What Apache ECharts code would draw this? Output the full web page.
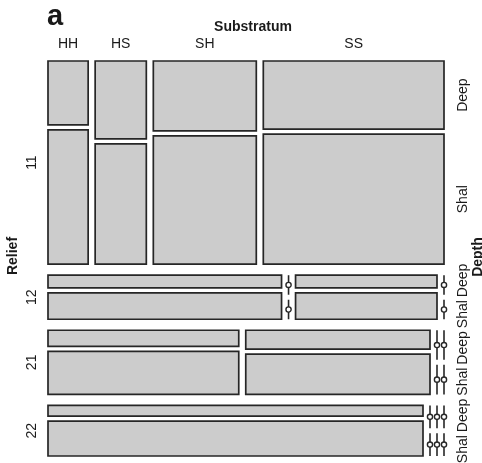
<!DOCTYPE html>
<html>
<head>
<meta charset="utf-8">
<script src="https://cdn.jsdelivr.net/npm/echarts@6/dist/echarts.min.js"></script>
<style>
html, body { margin: 0; padding: 0; background: #fff; }
#main { width: 482px; height: 463px; }
</style>
</head>
<body>
<div id="main"></div>
<script>
// levels
var relief = ['11', '12', '21', '22'];
var substratum = ['HH', 'HS', 'SH', 'SS'];
var depth = ['Deep', 'Shal'];

var deep11 = [2.0, 3.1, 5.6, 9.6];
var shal11 = [4.2, 4.8, 10.3, 18.3];
var deep12 = [2.3, 0, 1.4, 0];
var shal12 = [4.8, 0, 2.9, 0];
var deep21 = [2.4, 2.7, 0, 0];
var shal21 = [6.4, 5.8, 0, 0];
var deep22 = [3.1, 0, 0, 0];
var shal22 = [10.2, 0, 0, 0];

var counts = [[deep11, shal11], [deep12, shal12], [deep21, shal21], [deep22, shal22]];

var FONT = '"Liberation Sans", Arial, Helvetica, sans-serif';
var INK = '#1a1a1a';
var EDGE = '#262626';
var FILL = '#cccccc';

// plot box and spacing (gaps as fractions of the unit square)
var PLOT = { left: 48, top: 61, width: 396, height: 395 };
var GAP_R = 11 / PLOT.height;  // between relief rows
var GAP_D = 5 / PLOT.height;   // between depth levels
var GAP_S = 7 / PLOT.width;    // between substratum columns

// mosaic layout in the unit square: rows = relief, columns = substratum, split by depth
var total = 0;
var rowTot = counts.map(function (r) {
  var t = 0;
  r.forEach(function (d) { d.forEach(function (v) { t += v; }); });
  total += t;
  return t;
});
var netH = 1 - GAP_R * (relief.length - 1) - GAP_D * relief.length * (depth.length - 1);
var netW = 1 - GAP_S * (substratum.length - 1);

var tiles = [];
var rowPos = [];
var colPos = [];
var y = 0;
relief.forEach(function (rl, r) {
  var rowH = netH * rowTot[r] / total;
  var x = 0;
  var cols = [];
  substratum.forEach(function (sl, s) {
    var colTot = 0;
    depth.forEach(function (dl, d) { colTot += counts[r][d][s]; });
    var w = netW * colTot / rowTot[r];
    var yy = y;
    depth.forEach(function (dl, d) {
      var v = counts[r][d][s];
      var h = colTot > 0 ? rowH * v / colTot : rowH / depth.length;
      tiles.push({ r: r, s: s, d: d, v: v, x0: x, x1: x + w, y0: yy, y1: yy + h });
      yy += h + GAP_D;
    });
    cols.push([x, x + w]);
    x += w + GAP_S;
  });
  colPos.push(cols);
  var y1 = y + rowH + GAP_D * (depth.length - 1);
  rowPos.push([y, y1]);
  y = y1 + GAP_R;
});

// text measuring for label packing
var ctx = document.createElement('canvas').getContext('2d');
ctx.font = '14px ' + FONT;
function textLen(t) { return ctx.measureText(t).width / PLOT.height; }

var labels = [];
// substratum labels over first row
substratum.forEach(function (sl, s) {
  var c = colPos[0][s];
  labels.push({ text: sl, x: (c[0] + c[1]) / 2, y: 0, dx: 0, dy: -17, rot: 0 });
});
// relief labels on the left
relief.forEach(function (rl, r) {
  labels.push({ text: rl, x: 0, y: (rowPos[r][0] + rowPos[r][1]) / 2, dx: -16, dy: 0, rot: Math.PI / 2 });
});
// depth labels on the right, at last column's tiles, pushed apart when they collide
var right = [];
tiles.forEach(function (t) {
  if (t.s === substratum.length - 1) {
    right.push({ text: depth[t.d], c: (t.y0 + t.y1) / 2, len: textLen(depth[t.d]) });
  }
});
right.sort(function (a, b) { return a.c - b.c; });
var GAP_T = 3 / PLOT.height;
var clusters = right.map(function (it) { return { items: [it], sum: it.c, len: it.len }; });
function mid(cl) { return cl.sum / cl.items.length; }
var merged = true;
while (merged) {
  merged = false;
  for (var i = 0; i < clusters.length - 1; i++) {
    var a = clusters[i], b = clusters[i + 1];
    if ((mid(b) - b.len / 2) - (mid(a) + a.len / 2) < GAP_T) {
      clusters.splice(i, 2, { items: a.items.concat(b.items), sum: a.sum + b.sum, len: a.len + b.len + GAP_T });
      merged = true;
      break;
    }
  }
}
clusters.forEach(function (cl) {
  var start = mid(cl) - cl.len / 2;
  cl.items.forEach(function (it) {
    labels.push({ text: it.text, x: 1, y: start + it.len / 2, dx: 19, dy: 0, rot: Math.PI / 2 });
    start += it.len + GAP_T;
  });
});

function renderTile(params, api) {
  var p0 = api.coord([api.value(0), api.value(1)]);
  var p1 = api.coord([api.value(2), api.value(3)]);
  if (api.value(4) > 0) {
    return {
      type: 'rect',
      shape: { x: p0[0], y: p0[1], width: p1[0] - p0[0], height: p1[1] - p0[1] },
      style: { fill: FILL, stroke: EDGE, lineWidth: 1.7 }
    };
  }
  // empty cell: line with a small circle
  var cx = p0[0];
  return {
    type: 'group',
    children: [
      { type: 'line', shape: { x1: cx, y1: p0[1], x2: cx, y2: p1[1] }, style: { stroke: EDGE, lineWidth: 1.6 } },
      { type: 'circle', shape: { cx: cx, cy: (p0[1] + p1[1]) / 2, r: 2.6 }, style: { fill: '#fff', stroke: EDGE, lineWidth: 1.4 } }
    ]
  };
}

function renderLabel(params, api) {
  var l = labels[params.dataIndex];
  var p = api.coord([api.value(0), api.value(1)]);
  return {
    type: 'text',
    x: p[0] + l.dx,
    y: p[1] + l.dy,
    rotation: l.rot,
    style: { text: l.text, font: '14px ' + FONT, fill: INK, align: 'center', verticalAlign: 'middle' }
  };
}

var chart = echarts.init(document.getElementById('main'));
chart.setOption({
  animation: false,
  backgroundColor: '#fff',
  grid: { left: PLOT.left, top: PLOT.top, width: PLOT.width, height: PLOT.height },
  xAxis: { type: 'value', min: 0, max: 1, show: false },
  yAxis: { type: 'value', min: 0, max: 1, inverse: true, show: false },
  graphic: [
    { type: 'text', x: 47, y: 17, style: { text: 'a', font: 'bold 29px ' + FONT, fill: INK, align: 'left', verticalAlign: 'middle' } },
    { type: 'text', x: 253, y: 27, style: { text: 'Substratum', font: 'bold 14px ' + FONT, fill: INK, align: 'center', verticalAlign: 'middle' } },
    { type: 'text', x: 13, y: 256, rotation: Math.PI / 2, style: { text: 'Relief', font: 'bold 14px ' + FONT, fill: INK, align: 'center', verticalAlign: 'middle' } },
    { type: 'text', x: 478, y: 257, rotation: Math.PI / 2, style: { text: 'Depth', font: 'bold 14px ' + FONT, fill: INK, align: 'center', verticalAlign: 'middle' } }
  ],
  series: [
    {
      type: 'custom',
      clip: false,
      renderItem: renderTile,
      data: tiles.map(function (t) { return [t.x0, t.y0, t.x1, t.y1, t.v]; })
    },
    {
      type: 'custom',
      clip: false,
      renderItem: renderLabel,
      data: labels.map(function (l) { return [l.x, l.y]; })
    }
  ]
});
</script>
</body>
</html>
